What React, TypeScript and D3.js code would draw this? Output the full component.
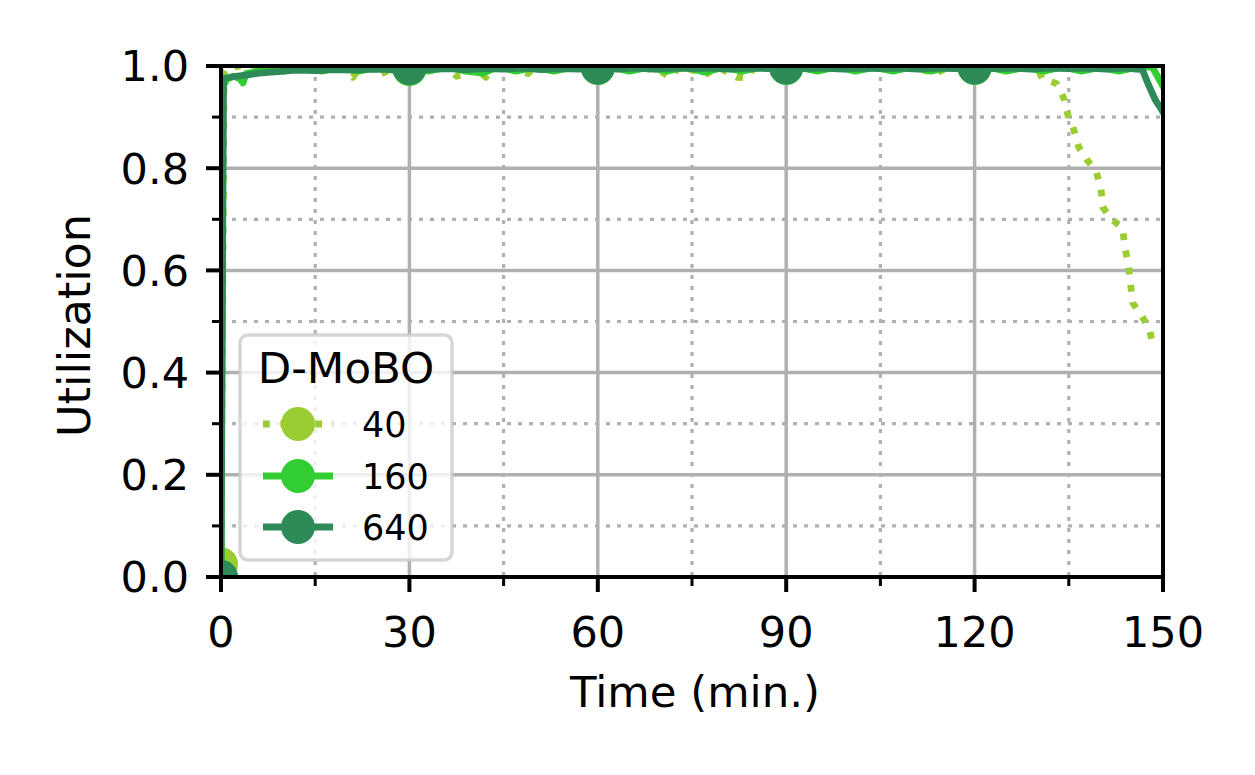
import React from "react";
import * as d3 from "d3";

// ---------- DATA ----------
const xTicks = [0, 30, 60, 90, 120, 150];
const xMinorTicks = [15, 45, 75, 105, 135];
const yTicks = [0, 0.2, 0.4, 0.6, 0.8, 1.0];
const yMinorTicks = [0.1, 0.3, 0.5, 0.7, 0.9];
const markerTimes = [0, 30, 60, 90, 120];

const legendTitle = "D-MoBO";
const seriesNames = ["40", "160", "640"];
const seriesColors = ["#9acd32", "#32cd32", "#2e8b57"];
const seriesDashes = ["6.8,10.6", null, null];

// [time (min), utilization]
const series40: [number, number][] = [
  [0, 0.025], [0.5, 0.99], [1, 0.995], [2, 0.998], [3, 1.0], [4, 0.998], [6, 0.999],
  [8, 1.0], [10, 0.998], [12, 0.999], [14, 1.0], [16, 0.998], [18, 0.999], [20, 0.99],
  [21, 0.978], [22, 0.995], [24, 0.999], [26, 0.99], [26.4, 0.978], [27, 0.998],
  [30, 1.0], [33, 0.998], [36, 0.999], [37.5, 0.98], [39, 0.985], [40, 0.999],
  [42.2, 0.978], [43, 0.998], [46, 1.0], [48.9, 0.985], [50, 0.999], [54, 0.998],
  [58, 1.0], [60, 0.999], [62, 0.999], [66, 0.998], [70, 0.99], [71.5, 0.978],
  [73, 0.998], [77.4, 0.985], [79, 0.999], [82.1, 0.978], [83.7, 0.977], [85, 0.998],
  [90, 1.0], [95, 0.999], [100, 0.998], [105, 1.0], [110, 0.999], [113.7, 0.985],
  [116, 0.999], [120, 1.0], [124, 0.998], [128, 0.999], [130, 0.995], [130.8, 0.975],
  [131.5, 0.973], [133.1, 0.965], [134.2, 0.937], [134.9, 0.902], [135.8, 0.875],
  [136.6, 0.841], [137.9, 0.816], [139.3, 0.796], [140.1, 0.763], [140.4, 0.724],
  [141.7, 0.701], [143.6, 0.683], [143.9, 0.646], [144.5, 0.611], [144.8, 0.576],
  [145.2, 0.536], [146.5, 0.513], [147.8, 0.487], [148.4, 0.454],
];

const series160: [number, number][] = [
  [0, 0], [0.3, 0.96], [1, 0.975], [2, 0.98], [3, 0.975], [3.5, 0.967], [4, 0.985],
  [6, 0.99], [8, 0.995], [10, 0.99], [13, 0.998], [16, 0.99], [19, 0.997], [22, 0.99],
  [25, 0.998], [28, 0.99], [30, 0.994], [33, 0.99], [36, 0.998], [39, 0.99],
  [41.7, 0.986], [44, 0.998], [47, 0.99], [50, 0.997], [53, 0.99], [56, 0.998],
  [60, 0.996], [62, 0.998], [65, 0.99], [68, 0.997], [71, 0.99], [74, 0.998],
  [77, 0.988], [80, 0.997], [83, 0.99], [86, 0.998], [90, 0.996], [92, 0.997],
  [95, 0.99], [98, 0.998], [101, 0.99], [104, 0.997], [107, 0.99], [110, 0.998],
  [113, 0.99], [116, 0.997], [120, 0.996], [122, 0.998], [125, 0.99], [128, 0.997],
  [131, 0.99], [134, 0.998], [137, 0.99], [140, 0.997], [143, 0.99], [146, 0.998],
  [148.3, 0.998], [149.7, 0.967], [150, 0.96],
];

const series640: [number, number][] = [
  [0, 0], [0.4, 0.975], [1, 0.977], [2, 0.979], [4, 0.982], [6, 0.986], [8, 0.988],
  [10, 0.99], [12, 0.992], [15, 0.991], [18, 0.993], [21, 0.992], [24, 0.994],
  [27, 0.993], [30, 0.996], [33, 0.993], [36, 0.995], [39, 0.993], [42, 0.995],
  [45, 0.994], [48, 0.996], [51, 0.993], [54, 0.995], [57, 0.994], [60, 0.997],
  [63, 0.994], [66, 0.996], [69, 0.994], [72, 0.996], [75, 0.995], [78, 0.996],
  [81, 0.994], [84, 0.996], [87, 0.995], [90, 0.997], [93, 0.995], [96, 0.996],
  [99, 0.994], [102, 0.996], [105, 0.995], [108, 0.996], [111, 0.994], [114, 0.996],
  [117, 0.995], [120, 0.997], [123, 0.995], [126, 0.996], [129, 0.994], [132, 0.996],
  [135, 0.995], [138, 0.996], [141, 0.994], [144, 0.996], [146.7, 0.993],
  [147.7, 0.963], [148.8, 0.933], [149.6, 0.918], [150, 0.91],
];

const allSeries = [series40, series160, series640];

// ---------- LAYOUT ----------
const W = 1255;
const H = 775;
const M = { left: 221, right: 1163, top: 66, bottom: 577 };
const FONT = "DejaVu Sans, sans-serif";

export default function App() {
  const x = d3.scaleLinear().domain([0, 150]).range([M.left, M.right]);
  const y = d3.scaleLinear().domain([0, 1]).range([M.bottom, M.top]);
  const line = d3
    .line<[number, number]>()
    .x((d) => x(d[0]))
    .y((d) => y(d[1]));
  const fmtY = d3.format(".1f");
  const grid = "#b0b0b0";
  const mr = 17;
  const lw = 6.8;

  const legX = 240, legY = 335, legW = 212, legH = 225;
  const rowY = [424, 476, 527];

  return (
    <svg
      width={W}
      height={H}
      style={{ position: "absolute", left: 0, top: 0, background: "#fff" }}
      fontFamily={FONT}
    >
      <defs>
        <clipPath id="plotclip">
          <rect x={M.left} y={M.top} width={M.right - M.left} height={M.bottom - M.top} />
        </clipPath>
      </defs>
      <rect x={0} y={0} width={W} height={H} fill="#fff" />

      {/* minor grid */}
      {xMinorTicks.map((t) => (
        <line key={"xm" + t} x1={x(t)} x2={x(t)} y1={M.top} y2={M.bottom}
          stroke={grid} strokeWidth={3.2} strokeDasharray="4,7" />
      ))}
      {yMinorTicks.map((t) => (
        <line key={"ym" + t} x1={M.left} x2={M.right} y1={y(t)} y2={y(t)}
          stroke={grid} strokeWidth={3.2} strokeDasharray="4,7" />
      ))}
      {/* major grid */}
      {xTicks.map((t) => (
        <line key={"xg" + t} x1={x(t)} x2={x(t)} y1={M.top} y2={M.bottom}
          stroke={grid} strokeWidth={3.5} />
      ))}
      {yTicks.map((t) => (
        <line key={"yg" + t} x1={M.left} x2={M.right} y1={y(t)} y2={y(t)}
          stroke={grid} strokeWidth={3.5} />
      ))}

      {/* series */}
      <g clipPath="url(#plotclip)">
        {allSeries.map((s, i) => (
          <g key={"s" + i}>
            <path d={line(s) || ""} fill="none" stroke={seriesColors[i]} strokeWidth={lw}
              strokeDasharray={seriesDashes[i] || undefined}
              strokeLinejoin="round" strokeLinecap={seriesDashes[i] ? "butt" : "square"} />
            {s.filter((d) => markerTimes.includes(d[0])).map((d) => (
              <circle key={"m" + d[0]} cx={x(d[0])} cy={y(d[1])} r={mr} fill={seriesColors[i]} />
            ))}
          </g>
        ))}
      </g>

      {/* spines */}
      <rect x={M.left} y={M.top} width={M.right - M.left} height={M.bottom - M.top}
        fill="none" stroke="#000" strokeWidth={4} />

      {/* x ticks */}
      {xTicks.map((t) => (
        <g key={"xt" + t}>
          <line x1={x(t)} x2={x(t)} y1={M.bottom} y2={M.bottom + 15} stroke="#000" strokeWidth={4} />
          <text x={x(t)} y={647} textAnchor="middle" fontSize={43}>{t}</text>
        </g>
      ))}
      {xMinorTicks.map((t) => (
        <line key={"xmt" + t} x1={x(t)} x2={x(t)} y1={M.bottom} y2={M.bottom + 9}
          stroke="#000" strokeWidth={3} />
      ))}
      {/* y ticks */}
      {yTicks.map((t) => (
        <g key={"yt" + t}>
          <line x1={M.left - 15} x2={M.left} y1={y(t)} y2={y(t)} stroke="#000" strokeWidth={4} />
          <text x={M.left - 32} y={y(t)} dy="0.36em" textAnchor="end" fontSize={43}>{fmtY(t)}</text>
        </g>
      ))}
      {yMinorTicks.map((t) => (
        <line key={"ymt" + t} x1={M.left - 9} x2={M.left} y1={y(t)} y2={y(t)}
          stroke="#000" strokeWidth={3} />
      ))}

      {/* axis labels */}
      <text x={(M.left + M.right) / 2 + 3} y={707} textAnchor="middle" fontSize={43.5}>Time (min.)</text>
      <text transform={`translate(90, ${(M.top + M.bottom) / 2 + 4}) rotate(-90)`} textAnchor="middle" fontSize={44.5}>
        Utilization
      </text>

      {/* legend */}
      <rect x={legX} y={legY} width={legW} height={legH} rx={8} ry={8}
        fill="#fff" fillOpacity={0.8} stroke="#cccccc" strokeOpacity={0.8} strokeWidth={3.5} />
      <text x={legX + legW / 2} y={383} textAnchor="middle" fontSize={43.5}>{legendTitle}</text>
      {seriesNames.map((n, i) => (
        <g key={"lg" + n}>
          <line x1={263} x2={333} y1={rowY[i]} y2={rowY[i]} stroke={seriesColors[i]} strokeWidth={lw}
            strokeDasharray={seriesDashes[i] || undefined} />
          <circle cx={298} cy={rowY[i]} r={mr} fill={seriesColors[i]} />
          <text x={362} y={rowY[i]} dy="0.36em" fontSize={35}>{n}</text>
        </g>
      ))}
    </svg>
  );
}
